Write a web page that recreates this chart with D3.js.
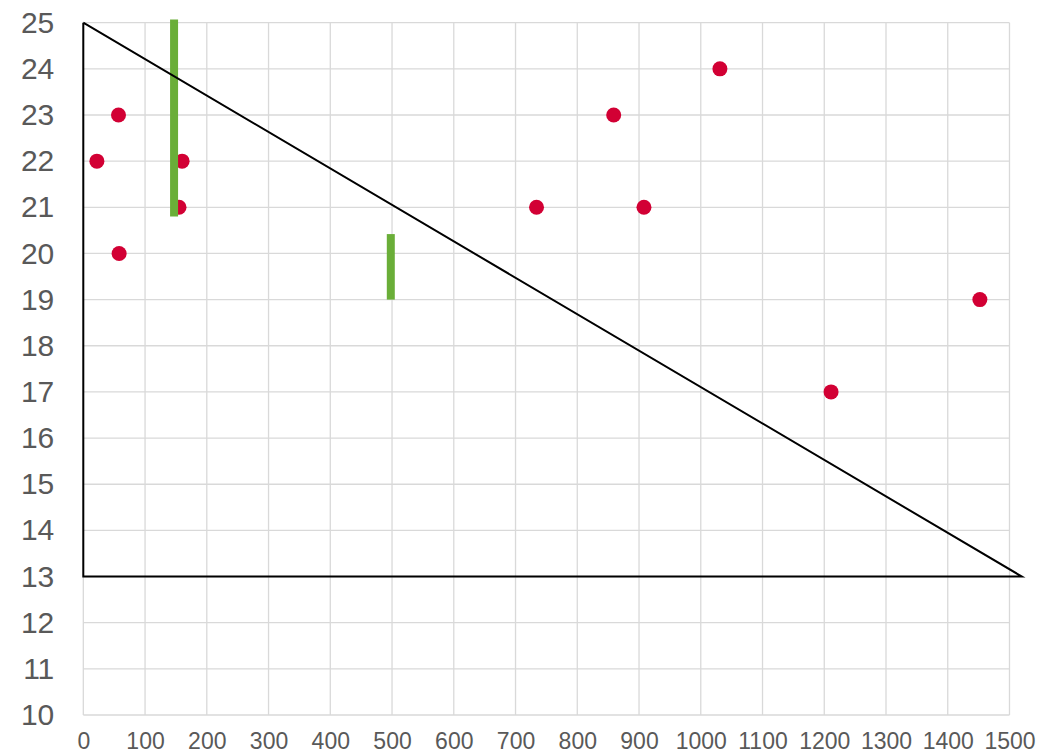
<!DOCTYPE html>
<html>
<head>
<meta charset="utf-8">
<script src="https://cdn.jsdelivr.net/npm/d3@7"></script>
<style>
  html, body { margin: 0; padding: 0; background: #fff; }
  svg { display: block; font-family: "Liberation Sans", Arial, sans-serif; }
</style>
</head>
<body>
<svg id="chart" width="1043" height="756"></svg>
<script>
// red points
const dotX = [22, 57, 58, 160, 155, 734, 859, 908, 1031, 1211, 1452];
const dotY = [22, 23, 20, 22, 21, 21, 23, 21, 24, 17, 19];

// green vertical bars
const barX = [147, 498];
const barLow = [20.8, 19];
const barHigh = [25.07, 20.42];

// triangle outline
const triX = [0, 0, 1520, 0];
const triY = [25, 13, 13, 25];

const xTicks = d3.range(0, 1501, 100);
const yTicks = d3.range(10, 26, 1);

const W = 1043, H = 756;
const m = { top: 22.7, right: 33.5, bottom: 41, left: 83.3 };
const iW = W - m.left - m.right;
const iH = H - m.top - m.bottom;

const svg = d3.select("#chart");
const g = svg.append("g").attr("transform", `translate(${m.left},${m.top})`);

const x = d3.scaleLinear().domain([0, 1500]).range([0, iW]);
const y = d3.scaleLinear().domain([10, 25]).range([iH, 0]);

// grid
g.append("g").selectAll("line").data(xTicks).join("line")
  .attr("x1", d => x(d)).attr("x2", d => x(d))
  .attr("y1", 0).attr("y2", iH)
  .attr("stroke", "#d9d9d9").attr("stroke-width", 1.3);
g.append("g").selectAll("line").data(yTicks).join("line")
  .attr("x1", 0).attr("x2", iW)
  .attr("y1", d => y(d)).attr("y2", d => y(d))
  .attr("stroke", "#d9d9d9").attr("stroke-width", 1.3);

// axes labels
const xAxis = g.append("g").attr("transform", `translate(0,${iH})`)
  .call(d3.axisBottom(x).tickValues(xTicks).tickSize(0).tickPadding(18).tickFormat(d3.format("d")));
xAxis.select(".domain").remove();
xAxis.selectAll("text").style("font-size", "23px").style("fill", "#595959")
  .style("font-family", "'Liberation Sans', Arial, sans-serif");

const yAxis = g.append("g")
  .call(d3.axisLeft(y).tickValues(yTicks).tickSize(0).tickPadding(29).tickFormat(d3.format("d")));
yAxis.select(".domain").remove();
yAxis.selectAll("text").style("font-size", "30px").style("fill", "#595959")
  .style("font-family", "'Liberation Sans', Arial, sans-serif");

// dots
g.append("g").selectAll("circle").data(dotX.map((d, i) => [d, dotY[i]])).join("circle")
  .attr("cx", d => x(d[0])).attr("cy", d => y(d[1]))
  .attr("r", 7.5).attr("fill", "#d20034");

// green bars
g.append("g").selectAll("line").data(barX.map((d, i) => [d, barLow[i], barHigh[i]])).join("line")
  .attr("x1", d => x(d[0])).attr("x2", d => x(d[0]))
  .attr("y1", d => y(d[1])).attr("y2", d => y(d[2]))
  .attr("stroke", "#6aae38").attr("stroke-width", 8);

// triangle
const line = d3.line().x(d => x(d[0])).y(d => y(d[1]));
g.append("path")
  .datum(triX.map((d, i) => [d, triY[i]]))
  .attr("d", line)
  .attr("fill", "none").attr("stroke", "#000").attr("stroke-width", 2)
  .attr("stroke-linejoin", "miter");
</script>
</body>
</html>
